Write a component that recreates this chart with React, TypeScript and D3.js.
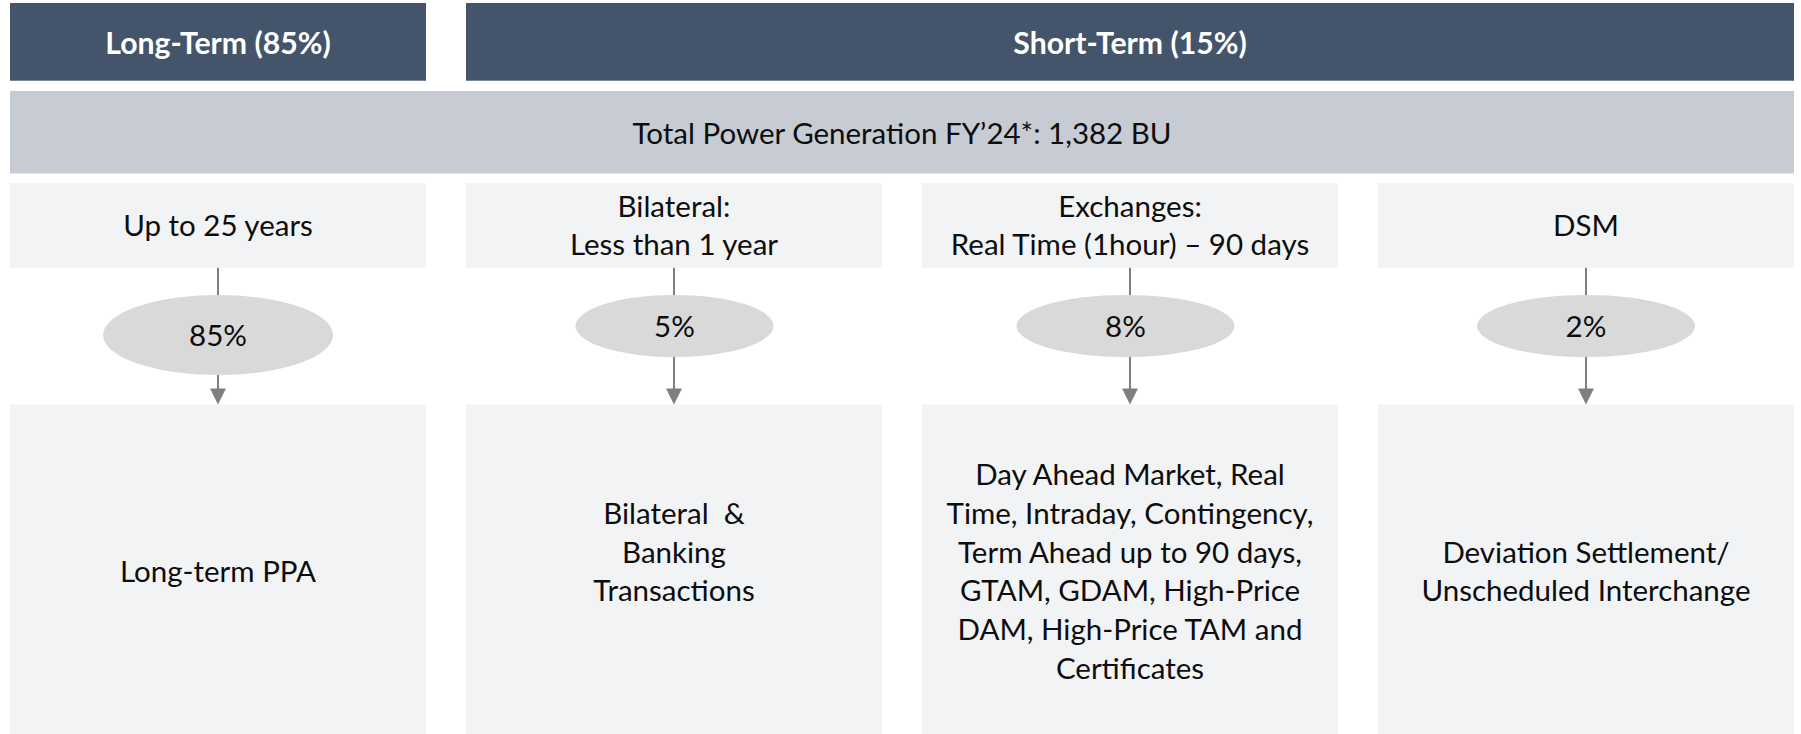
import React from "react";
import * as d3 from "d3";

// ---------- data ----------
const groupHeaders = ["Long-Term (85%)", "Short-Term (15%)"];
const groupSpans = [[0, 0], [1, 3]];
const totalLabel = "Total Power Generation FY’24*: 1,382 BU";
const columns = ["Long-Term", "Bilateral", "Exchanges", "DSM"];
const durationLabels = [
  ["Up to 25 years"],
  ["Bilateral:", "Less than 1 year"],
  ["Exchanges:", "Real Time (1hour) – 90 days"],
  ["DSM"],
];
const shares = [85, 5, 8, 2];
const productLabels = [
  ["Long-term PPA"],
  ["Bilateral  &", "Banking", "Transactions", ""],
  [
    "Day Ahead Market, Real",
    "Time, Intraday, Contingency,",
    "Term Ahead up to 90 days,",
    "GTAM, GDAM, High-Price",
    "DAM, High-Price TAM and",
    "Certificates",
  ],
  ["Deviation Settlement/", "Unscheduled Interchange"],
];

// ---------- layout / style ----------
const W = 1801;
const H = 734;
const ELLIPSE = [
  { rx: 115, ry: 40, dx: 0 },
  { rx: 99, ry: 31, dx: 0.5 },
  { rx: 109, ry: 31, dx: -4.5 },
  { rx: 109, ry: 31, dx: 0 },
];
const FONT = "Lato, 'Open Sans', sans-serif";
const FS = 29.5;
const FS_HDR = 30.2;
const LH = 38.7;

export default function App() {
  const x = d3
    .scaleBand<string>()
    .domain(columns)
    .range([10, 1794])
    .paddingInner(40 / 456)
    .paddingOuter(0);
  const bw = x.bandwidth();
  const cx = (i: number) => (x(columns[i]) as number) + bw / 2;

  const y = {
    hdrTop: 3,
    hdrBot: 80.7,
    totTop: 91,
    totBot: 173.5,
    topTop: 183,
    topBot: 267.7,
    ellTop: 295,
    botTop: 404.5,
    botBot: 734,
  };

  const lineGen = d3.line<[number, number]>();
  const arrowHead = 16;

  return (
    <>
      <style>{"body{margin:0;}"}</style>
      <svg width={W} height={H} style={{ display: "block" }} fontFamily={FONT}>
        <rect width={W} height={H} fill="#ffffff" />
        {/* group headers */}
        {groupHeaders.map((h, gi) => {
          const [a, b] = groupSpans[gi];
          const x0 = x(columns[a]) as number;
          const x1 = (x(columns[b]) as number) + bw;
          return (
            <g key={h}>
              <rect x={x0} y={y.hdrTop} width={x1 - x0} height={y.hdrBot - y.hdrTop} fill="#44546A" />
              <text
                x={(x0 + x1) / 2}
                y={54}
                textAnchor="middle"
                fill="#ffffff"
                fontWeight={700}
                fontSize={FS_HDR}
              >
                {h}
              </text>
            </g>
          );
        })}
        {/* total bar */}
        <rect
          x={x(columns[0]) as number}
          y={y.totTop}
          width={(x(columns[3]) as number) + bw - (x(columns[0]) as number)}
          height={y.totBot - y.totTop}
          fill="#C7CBD3"
        />
        <text x={(10 + 1794) / 2} y={144} textAnchor="middle" fontSize={FS} fill="#0d0d0d">
          {totalLabel}
        </text>
        {columns.map((c, i) => {
          const x0 = x(c) as number;
          const mid = cx(i);
          const e = ELLIPSE[i];
          const ecy = y.ellTop + e.ry;
          const top = durationLabels[i];
          const bot = productLabels[i];
          return (
            <g key={c}>
              <rect x={x0} y={y.topTop} width={bw} height={y.topBot - y.topTop} fill="#F2F3F5" />
              {top.map((t, li) => (
                <text
                  key={li}
                  x={mid}
                  y={236 + (li - (top.length - 1) / 2) * LH}
                  textAnchor="middle"
                  fontSize={FS}
                  fill="#0d0d0d"
                >
                  {t}
                </text>
              ))}
              {/* connector top */}
              <path
                d={lineGen([[mid, y.topBot], [mid, y.ellTop + 2]]) as string}
                stroke="#7F7F7F"
                strokeWidth={2}
                fill="none"
              />
              {/* connector bottom */}
              <path
                d={lineGen([[mid, ecy + e.ry - 1], [mid, y.botTop - arrowHead + 1]]) as string}
                stroke="#7F7F7F"
                strokeWidth={2}
                fill="none"
              />
              <path
                d={
                  lineGen([
                    [mid - 8, y.botTop - arrowHead],
                    [mid + 8, y.botTop - arrowHead],
                    [mid, y.botTop],
                  ]) + "Z"
                }
                fill="#7F7F7F"
              />
              <ellipse cx={mid + e.dx} cy={ecy} rx={e.rx} ry={e.ry} fill="#D9D9D9" />
              <text
                x={mid + e.dx}
                y={ecy + 10.5}
                textAnchor="middle"
                fontSize={FS}
                fill="#0d0d0d"
              >
                {shares[i] + "%"}
              </text>
              <rect x={x0} y={y.botTop} width={bw} height={y.botBot - y.botTop} fill="#F2F3F5" />
              {bot.map((t, li) => (
                <text
                  key={li}
                  x={mid}
                  y={582 + (li - (bot.length - 1) / 2) * LH}
                  textAnchor="middle"
                  fontSize={FS}
                  fill="#0d0d0d"
                  style={{ whiteSpace: "pre" }}
                >
                  {t}
                </text>
              ))}
            </g>
          );
        })}
      </svg>
    </>
  );
}
